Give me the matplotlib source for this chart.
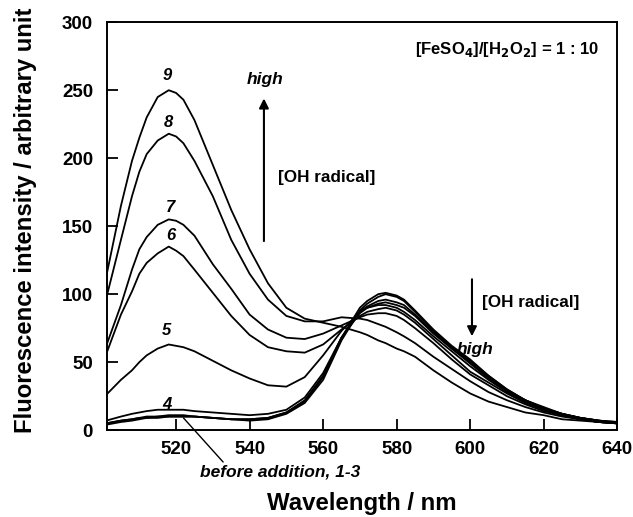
import matplotlib
matplotlib.use("Agg")
import matplotlib.pyplot as plt

plt.rcParams["font.family"] = ["Liberation Sans", "DejaVu Sans"]
plt.rcParams["font.weight"] = "bold"
plt.rcParams["axes.linewidth"] = 1.4

# wavelength grid (nm)
wl = [501, 505, 508, 510, 512, 515, 518, 520, 522, 525, 530, 535, 540, 545, 550, 555, 560, 565,
      570, 572, 575, 577, 580, 582, 585, 590, 595, 600, 605, 610, 615, 620, 625, 630, 635, 640]

# fluorescence intensity, curves 1-9
c1 = [5, 7, 8, 9, 10, 10, 11, 11, 11, 10, 9, 8, 8, 9, 13, 21, 39, 68,
      90, 95, 100, 101, 99, 96, 88, 74, 62, 52, 40, 30, 22, 17, 12, 9, 7, 6]
c2 = [4, 6, 7, 8, 9, 9, 10, 10, 10, 10, 9, 8, 7, 8, 12, 20, 37, 66,
      88, 93, 98, 100, 98, 95, 87, 73, 61, 51, 40, 30, 22, 16, 12, 9, 7, 6]
c3 = [5, 7, 8, 9, 9, 10, 10, 10, 10, 10, 9, 8, 8, 9, 13, 22, 40, 68,
      87, 91, 95, 96, 94, 92, 85, 72, 60, 50, 39, 29, 22, 16, 12, 9, 7, 5]
c4 = [7, 10, 12, 13, 14, 15, 15, 15, 15, 14, 13, 12, 11, 12, 15, 24, 42, 68,
      86, 90, 93, 94, 92, 90, 84, 71, 60, 49, 38, 29, 22, 16, 12, 9, 7, 5]
c5 = [26, 37, 44, 50, 55, 60, 63, 62, 61, 58, 51, 44, 38, 33, 32, 39, 55, 73,
      87, 90, 92, 92, 90, 87, 81, 69, 58, 47, 37, 28, 21, 16, 11, 8, 6, 5]
c6 = [56, 85, 102, 115, 123, 130, 135, 132, 128, 118, 101, 84, 70, 61, 58, 57, 63, 74,
      84, 87, 89, 90, 88, 85, 79, 67, 55, 43, 35, 27, 20, 15, 11, 8, 6, 5]
c7 = [62, 92, 118, 133, 142, 151, 155, 154, 151, 143, 122, 104, 85, 74, 68, 67, 71, 77,
      83, 85, 86, 86, 84, 81, 75, 64, 52, 41, 33, 25, 19, 14, 11, 8, 6, 5]
c8 = [97, 140, 172, 190, 203, 213, 218, 216, 211, 198, 172, 140, 115, 96, 84, 80, 80, 83,
      82, 81, 78, 76, 72, 69, 64, 54, 45, 36, 28, 22, 17, 13, 10, 8, 6, 5]
c9 = [113, 165, 198, 215, 230, 245, 250, 248, 243, 228, 195, 162, 133, 108, 90, 82, 79, 76,
      72, 70, 66, 64, 60, 58, 54, 44, 35, 27, 21, 17, 13, 11, 8, 7, 6, 5]
curves = [c1, c2, c3, c4, c5, c6, c7, c8, c9]

# curve number labels: (label, x, y)
num_labels = [("4", 517.5, 19), ("5", 517.5, 73), ("6", 518.5, 143),
              ("7", 518.5, 164), ("8", 518, 226), ("9", 517.5, 261)]

fig = plt.figure(figsize=(6.33, 5.17), dpi=100)
ax = fig.add_axes([0.169, 0.168, 0.806, 0.789])

for c in curves:
    ax.plot(wl, c, color="black", lw=1.3)

for lab, x, y in num_labels:
    ax.text(x, y, lab, fontsize=12, fontweight="bold", style="italic",
            ha="center", va="center")

# arrows and annotations
ax.annotate("", xy=(543.9, 246), xytext=(543.9, 137),
            arrowprops=dict(arrowstyle="-|>", color="black", lw=1.5, mutation_scale=14))
ax.text(544.2, 258, "high", fontsize=12.5, fontweight="bold", style="italic",
        ha="center", va="center")
ax.text(547.7, 186, "[OH radical]", fontsize=12.3, fontweight="bold",
        ha="left", va="center")

ax.annotate("", xy=(600.5, 67), xytext=(600.5, 113),
            arrowprops=dict(arrowstyle="-|>", color="black", lw=1.5, mutation_scale=14))
ax.text(603.3, 94, "[OH radical]", fontsize=12.3, fontweight="bold",
        ha="left", va="center")
ax.text(601.3, 59, "high", fontsize=12.5, fontweight="bold", style="italic",
        ha="center", va="center")

ax.text(585, 280, r"[FeSO$_\mathbf{4}$]/[H$_\mathbf{2}$O$_\mathbf{2}$] = 1 : 10",
        fontsize=12, fontweight="bold", ha="left", va="center")

ax.annotate("before addition, 1-3", xy=(522, 9), xytext=(526.5, -31),
            fontsize=12.5, fontweight="bold", style="italic", ha="left", va="center",
            annotation_clip=False,
            arrowprops=dict(arrowstyle="-", color="black", lw=1.0,
                            shrinkA=0, shrinkB=0, relpos=(0.16, 1.0)))

ax.set_xlim(501.2, 640)
ax.set_ylim(0, 300)
ax.set_xticks([520, 540, 560, 580, 600, 620, 640])
ax.set_yticks([0, 50, 100, 150, 200, 250, 300])
ax.tick_params(direction="in", length=8, width=1.3, labelsize=13.5, pad=8)
ax.tick_params(axis="y", pad=10)
for lbl in ax.get_xticklabels() + ax.get_yticklabels():
    lbl.set_fontweight("bold")

ax.set_xlabel("Wavelength / nm", fontsize=17.3, fontweight="bold", labelpad=24)
ax.set_ylabel("Fluorescence intensity / arbitrary unit", fontsize=17.2,
              fontweight="bold", labelpad=18)
ax.yaxis.label.set_y(0.515)

fig.savefig("out.png", dpi=100)
